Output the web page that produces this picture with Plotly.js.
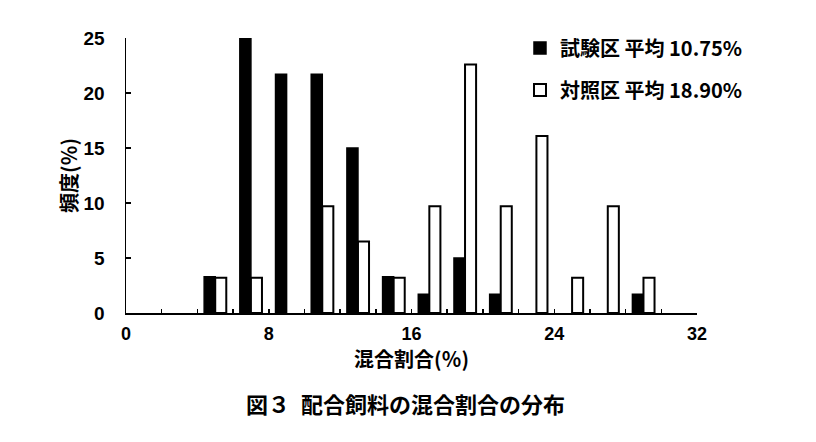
<!DOCTYPE html>
<html>
<head>
<meta charset="utf-8">
<script src="https://cdn.plot.ly/plotly-3.0.1.min.js"></script>
<style>
  body { margin: 0; background: #fff; }
  #chart { width: 816px; height: 442px; }
</style>
</head>
<body>
<div id="chart"></div>
<script>
// bin centres of 混合割合 (%)
var binCenters = [1, 3, 5, 7, 9, 11, 13, 15, 17, 19, 21, 23, 25, 27, 29, 31];
// 試験区 frequency (%)
var testFreq = [0, 0, 3.3, 25, 21.7, 21.7, 15, 3.3, 1.7, 5, 1.7, 0, 0, 0, 1.7, 0];
// 対照区 frequency (%)
var ctrlFreq = [0, 0, 3.2, 3.2, 0, 9.7, 6.5, 3.2, 9.7, 22.6, 9.7, 16.1, 3.2, 9.7, 3.2, 0];

var testName = "試験区 平均 10.75%";
var ctrlName = "対照区 平均 18.90%";

var jpFont = "'Noto Sans CJK JP', 'Liberation Sans', sans-serif";
var numFont = "'Liberation Sans', sans-serif";

function hideZeros(arr) {
  return arr.map(function (v) { return v === 0 ? null : v; });
}

var data = [{
  type: "bar",
  x: binCenters,
  y: hideZeros(testFreq),
  name: testName,
  legendgroup: "a",
  marker: { color: "#000", line: { color: "#000", width: 1.5 } },
  hoverinfo: "x+y"
}, {
  type: "bar",
  x: binCenters,
  y: hideZeros(ctrlFreq),
  name: ctrlName,
  legendgroup: "b",
  marker: { color: "#fff", line: { color: "#000", width: 2 } },
  hoverinfo: "x+y"
}];

var layout = {
  width: 816,
  height: 442,
  margin: { l: 126, r: 119, t: 38, b: 129 },
  paper_bgcolor: "#fff",
  plot_bgcolor: "#fff",
  barmode: "group",
  bargap: 0.38,
  bargroupgap: 0,
  font: { family: jpFont, color: "#000" },
  xaxis: {
    range: [0, 32],
    tickmode: "linear",
    tick0: 0,
    dtick: 8,
    ticks: "inside",
    ticklen: 4,
    tickwidth: 1.5,
    tickcolor: "#000",
    minor: { dtick: 2, ticks: "inside", ticklen: 4, tickwidth: 1.5, tickcolor: "#000" },
    showline: true,
    linecolor: "#000",
    linewidth: 1.5,
    showgrid: false,
    zeroline: false,
    ticklabelstandoff: 4,
    tickfont: { size: 18, weight: "bold", family: numFont },
    title: { text: "混合割合(％)", font: { size: 20, weight: "bold" }, standoff: 6 }
  },
  yaxis: {
    range: [0, 25],
    tickmode: "linear",
    tick0: 0,
    dtick: 5,
    ticks: "inside",
    ticklen: 5,
    tickwidth: 1.5,
    tickcolor: "#000",
    showline: true,
    linecolor: "#000",
    linewidth: 1.5,
    showgrid: false,
    zeroline: false,
    ticklabelstandoff: 16,
    tickfont: { size: 19, weight: "bold", family: numFont },
    title: { text: "頻度(％)", font: { size: 20, weight: "bold" }, standoff: 0 }
  },
  showlegend: true,
  legend: {
    x: 0.69,
    y: 1.035,
    xanchor: "left",
    yanchor: "top",
    bgcolor: "rgba(0,0,0,0)",
    traceorder: "grouped",
    tracegroupgap: 13,
    itemwidth: 30,
    font: { size: 20, weight: "bold", family: jpFont }
  },
  annotations: [{
    xref: "paper",
    yref: "paper",
    x: 0.49,
    y: -0.327,
    xanchor: "center",
    yanchor: "middle",
    showarrow: false,
    text: "図３\u2002配合飼料の混合割合の分布",
    font: { size: 22, weight: "bold", family: jpFont }
  }]
};

Plotly.newPlot("chart", data, layout, { displayModeBar: false, staticPlot: true });
</script>
</body>
</html>
